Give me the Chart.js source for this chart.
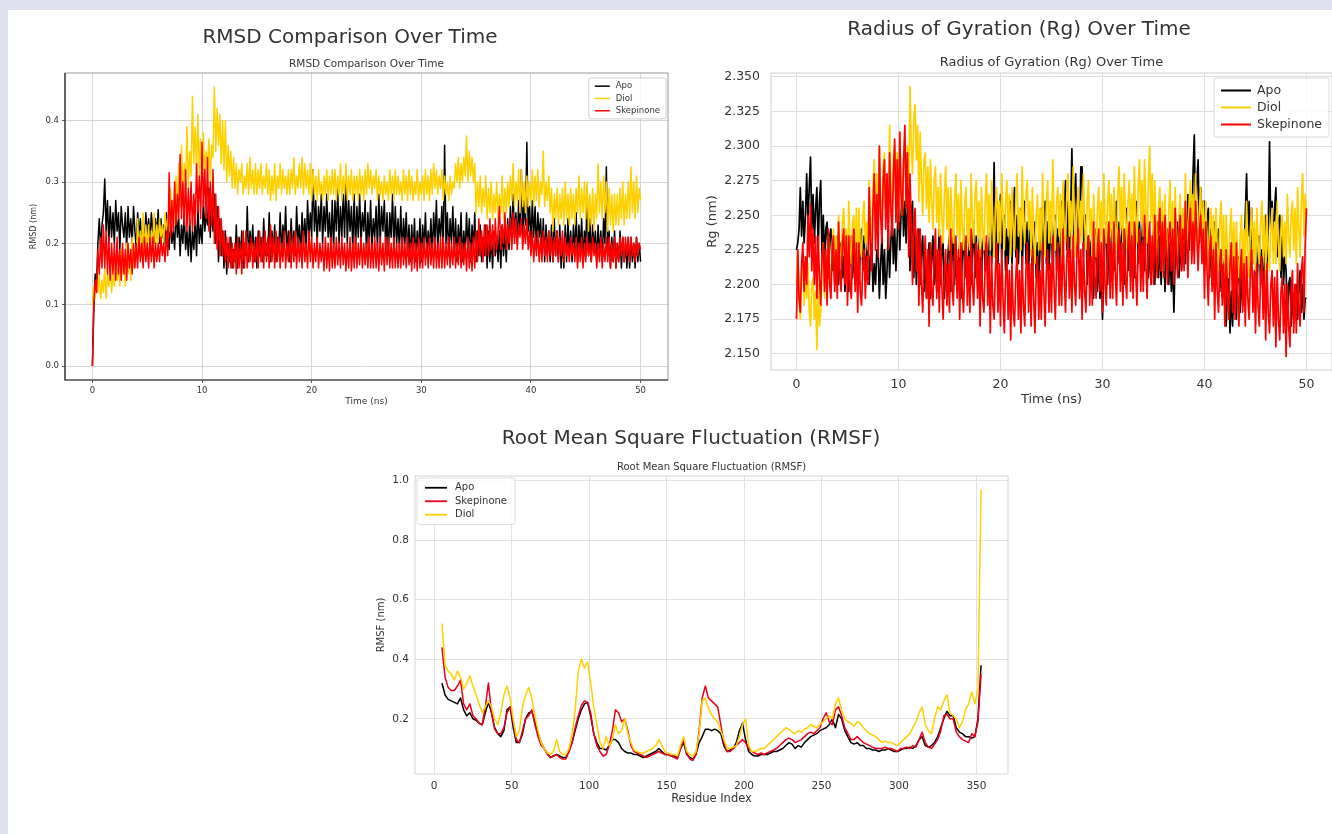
<!DOCTYPE html>
<html>
<head>
<meta charset="utf-8">
<title>RMSD, Rg and RMSF</title>
<script src="https://cdn.jsdelivr.net/npm/chart.js@4.4.1/dist/chart.umd.min.js"></script>
<style>
  html, body { margin: 0; padding: 0; }
  body { width: 1332px; height: 834px; overflow: hidden; background: #dfe1f0; position: relative; }
  #sheet { position: absolute; left: 8px; top: 10px; right: 0; bottom: 0; background: #ffffff; }
  .plot { position: absolute; }
  #rmsdBox { left: 10px; top: 12px; width: 680px; height: 405px; }
  #rgBox { left: 700px; top: 12px; width: 638px; height: 405px; }
  #rmsfBox { left: 340px; top: 418px; width: 702px; height: 400px; }
</style>
</head>
<body>
<div id="sheet"></div>
<div class="plot" id="rmsdBox"><canvas id="rmsdChart"></canvas></div>
<div class="plot" id="rgBox"><canvas id="rgChart"></canvas></div>
<div class="plot" id="rmsfBox"><canvas id="rmsfChart"></canvas></div>

<script>
// ---- data ----
// RMSD / Rg: 8 readings per ns, one row per ns (0 .. 50 ns)
const timeStep = 0.125;

const rmsdApo = [
  0.00,0.09,0.15,0.13,0.20,0.24,0.19,0.23,  0.25,0.305,0.22,0.27,0.20,0.26,0.21,0.25,
  0.20,0.27,0.22,0.25,0.19,0.26,0.23,0.21,  0.25,0.19,0.26,0.21,0.24,0.20,0.26,0.22,
  0.19,0.25,0.21,0.24,0.19,0.23,0.20,0.25,  0.21,0.24,0.20,0.25,0.22,0.20,0.24,0.21,
  0.255,0.20,0.24,0.21,0.23,0.20,0.25,0.21, 0.19,0.24,0.20,0.22,0.19,0.26,0.21,0.24,
  0.18,0.23,0.20,0.25,0.19,0.22,0.18,0.24,  0.17,0.22,0.19,0.24,0.18,0.26,0.20,0.23,
  0.20,0.27,0.22,0.25,0.23,0.29,0.21,0.27,  0.22,0.28,0.20,0.26,0.17,0.24,0.18,0.22,
  0.16,0.22,0.15,0.20,0.17,0.21,0.16,0.19,  0.17,0.23,0.16,0.21,0.18,0.22,0.16,0.20,
  0.18,0.26,0.17,0.22,0.19,0.23,0.17,0.21,  0.16,0.22,0.18,0.21,0.17,0.24,0.18,0.20,
  0.18,0.25,0.17,0.22,0.19,0.23,0.17,0.21,  0.19,0.25,0.18,0.23,0.20,0.26,0.18,0.22,
  0.17,0.24,0.19,0.22,0.18,0.26,0.20,0.23,  0.18,0.25,0.20,0.24,0.19,0.27,0.21,0.25,
  0.21,0.32,0.22,0.27,0.20,0.26,0.22,0.28,  0.20,0.26,0.22,0.28,0.21,0.25,0.19,0.27,
  0.19,0.27,0.22,0.29,0.20,0.26,0.21,0.28,  0.21,0.31,0.20,0.27,0.22,0.26,0.19,0.28,
  0.19,0.26,0.21,0.28,0.20,0.25,0.22,0.27,  0.18,0.25,0.20,0.27,0.19,0.24,0.21,0.26,
  0.19,0.28,0.20,0.26,0.22,0.27,0.19,0.25,  0.18,0.25,0.21,0.28,0.19,0.26,0.20,0.24,
  0.19,0.26,0.18,0.24,0.20,0.25,0.18,0.23,  0.17,0.23,0.18,0.24,0.17,0.22,0.19,0.24,
  0.17,0.23,0.19,0.25,0.18,0.22,0.19,0.24,  0.18,0.25,0.20,0.27,0.19,0.24,0.21,0.26,
  0.19,0.36,0.20,0.25,0.18,0.24,0.20,0.26,  0.18,0.24,0.17,0.23,0.19,0.25,0.17,0.22,
  0.18,0.25,0.19,0.24,0.17,0.23,0.19,0.25,  0.17,0.22,0.18,0.23,0.17,0.21,0.18,0.23,
  0.16,0.22,0.17,0.21,0.16,0.22,0.18,0.21,  0.17,0.22,0.16,0.23,0.18,0.22,0.17,0.24,
  0.19,0.26,0.20,0.28,0.21,0.25,0.20,0.27,  0.22,0.32,0.21,0.27,0.23,0.365,0.22,0.26,
  0.20,0.27,0.21,0.26,0.19,0.25,0.21,0.24,  0.18,0.24,0.17,0.23,0.18,0.22,0.17,0.23,
  0.17,0.24,0.18,0.22,0.17,0.23,0.16,0.21,  0.16,0.23,0.17,0.24,0.18,0.22,0.17,0.23,
  0.18,0.25,0.17,0.23,0.19,0.24,0.17,0.22,  0.19,0.29,0.18,0.24,0.17,0.23,0.19,0.22,
  0.17,0.23,0.18,0.22,0.17,0.24,0.20,0.325, 0.18,0.22,0.16,0.21,0.17,0.22,0.16,0.20,
  0.17,0.22,0.16,0.21,0.17,0.20,0.16,0.21,  0.16,0.21,0.17,0.20,0.16,0.21,0.17,0.20,
  0.17
];
const rmsdDiol = [
  0.10,0.13,0.11,0.14,0.12,0.15,0.11,0.14,  0.12,0.16,0.11,0.15,0.13,0.17,0.12,0.15,
  0.13,0.18,0.14,0.16,0.13,0.19,0.15,0.17,  0.13,0.20,0.15,0.18,0.14,0.21,0.16,0.19,
  0.17,0.24,0.18,0.22,0.19,0.25,0.18,0.23,  0.19,0.23,0.18,0.22,0.20,0.25,0.19,0.23,
  0.20,0.24,0.21,0.23,0.20,0.25,0.22,0.24,  0.22,0.29,0.24,0.27,0.23,0.31,0.25,0.33,
  0.26,0.36,0.28,0.33,0.30,0.39,0.29,0.35,  0.31,0.44,0.33,0.39,0.32,0.41,0.31,0.37,
  0.30,0.38,0.31,0.35,0.32,0.37,0.30,0.36,  0.34,0.455,0.35,0.42,0.36,0.41,0.33,0.40,
  0.32,0.40,0.30,0.36,0.31,0.35,0.29,0.34,  0.29,0.33,0.28,0.32,0.30,0.33,0.28,0.31,
  0.29,0.33,0.28,0.34,0.29,0.32,0.28,0.33,  0.28,0.32,0.29,0.33,0.28,0.31,0.29,0.33,
  0.28,0.32,0.27,0.31,0.28,0.33,0.27,0.31,  0.29,0.33,0.28,0.32,0.29,0.31,0.28,0.32,
  0.28,0.32,0.29,0.34,0.28,0.31,0.29,0.33,  0.29,0.34,0.28,0.33,0.29,0.32,0.28,0.33,
  0.27,0.32,0.28,0.31,0.27,0.32,0.28,0.30,  0.27,0.31,0.28,0.32,0.27,0.31,0.28,0.32,
  0.28,0.32,0.27,0.31,0.28,0.33,0.27,0.31,  0.28,0.33,0.27,0.31,0.28,0.32,0.27,0.31,
  0.28,0.31,0.27,0.32,0.28,0.31,0.27,0.32,  0.28,0.33,0.29,0.32,0.28,0.31,0.29,0.32,
  0.27,0.31,0.28,0.30,0.27,0.31,0.28,0.30,  0.27,0.32,0.28,0.31,0.27,0.32,0.28,0.31,
  0.28,0.30,0.27,0.32,0.28,0.31,0.27,0.32,  0.28,0.31,0.27,0.30,0.28,0.32,0.27,0.30,
  0.28,0.31,0.27,0.32,0.28,0.31,0.27,0.32,  0.28,0.33,0.29,0.32,0.28,0.31,0.29,0.32,
  0.27,0.31,0.28,0.30,0.27,0.31,0.28,0.30,  0.29,0.33,0.30,0.34,0.29,0.33,0.30,0.34,
  0.31,0.375,0.30,0.35,0.31,0.34,0.30,0.33, 0.25,0.30,0.26,0.31,0.25,0.29,0.26,0.31,
  0.24,0.29,0.25,0.30,0.24,0.28,0.25,0.30,  0.24,0.28,0.25,0.31,0.24,0.29,0.25,0.30,
  0.26,0.31,0.27,0.33,0.26,0.30,0.27,0.32,  0.25,0.32,0.26,0.30,0.25,0.31,0.26,0.30,
  0.27,0.32,0.26,0.31,0.27,0.32,0.26,0.30,  0.28,0.35,0.26,0.30,0.27,0.31,0.25,0.29,
  0.22,0.28,0.24,0.29,0.23,0.28,0.24,0.29,  0.23,0.30,0.24,0.28,0.23,0.29,0.24,0.28,
  0.23,0.29,0.25,0.31,0.24,0.29,0.25,0.30,  0.24,0.30,0.22,0.28,0.23,0.29,0.22,0.28,
  0.24,0.33,0.25,0.30,0.24,0.31,0.25,0.30,  0.22,0.29,0.23,0.28,0.22,0.28,0.23,0.28,
  0.23,0.29,0.24,0.30,0.23,0.28,0.24,0.30,  0.24,0.325,0.25,0.30,0.24,0.31,0.25,0.29,
  0.27
];
const rmsdSkep = [
  0.00,0.10,0.14,0.12,0.19,0.15,0.21,0.16,  0.23,0.16,0.22,0.15,0.21,0.14,0.20,0.15,
  0.20,0.14,0.21,0.15,0.19,0.14,0.20,0.15,  0.19,0.14,0.20,0.16,0.19,0.15,0.20,0.16,
  0.20,0.16,0.21,0.17,0.20,0.16,0.21,0.17,  0.20,0.16,0.21,0.17,0.21,0.16,0.20,0.17,
  0.20,0.17,0.21,0.18,0.20,0.17,0.22,0.18,  0.315,0.21,0.27,0.22,0.30,0.23,0.28,0.24,
  0.345,0.24,0.30,0.23,0.32,0.22,0.29,0.23, 0.30,0.22,0.28,0.23,0.33,0.25,0.31,0.24,
  0.365,0.26,0.32,0.24,0.34,0.22,0.30,0.23, 0.32,0.20,0.28,0.19,0.26,0.18,0.24,0.18,
  0.22,0.17,0.21,0.16,0.21,0.16,0.20,0.16,  0.20,0.15,0.21,0.16,0.20,0.15,0.22,0.16,
  0.22,0.16,0.20,0.17,0.21,0.16,0.20,0.17,  0.21,0.16,0.22,0.17,0.21,0.16,0.22,0.17,
  0.21,0.16,0.23,0.17,0.21,0.16,0.22,0.17,  0.21,0.16,0.20,0.17,0.22,0.16,0.20,0.17,
  0.22,0.16,0.21,0.17,0.22,0.16,0.21,0.17,  0.20,0.16,0.22,0.17,0.20,0.16,0.22,0.17,
  0.21,0.16,0.20,0.17,0.21,0.16,0.20,0.17,  0.20,0.155,0.21,0.16,0.20,0.155,0.21,0.16,
  0.20,0.16,0.21,0.165,0.20,0.16,0.21,0.165, 0.20,0.155,0.20,0.16,0.21,0.155,0.20,0.16,
  0.21,0.16,0.20,0.165,0.21,0.16,0.20,0.165, 0.20,0.16,0.21,0.16,0.20,0.16,0.21,0.16,
  0.20,0.155,0.21,0.165,0.20,0.155,0.21,0.165, 0.21,0.16,0.20,0.16,0.21,0.16,0.20,0.16,
  0.20,0.16,0.21,0.165,0.20,0.16,0.21,0.165, 0.20,0.155,0.21,0.16,0.20,0.155,0.21,0.16,
  0.20,0.16,0.21,0.165,0.20,0.16,0.21,0.165, 0.20,0.16,0.21,0.16,0.20,0.16,0.21,0.16,
  0.21,0.16,0.20,0.165,0.21,0.16,0.20,0.165, 0.21,0.16,0.20,0.165,0.21,0.16,0.20,0.165,
  0.20,0.155,0.21,0.16,0.20,0.155,0.21,0.16, 0.22,0.17,0.24,0.18,0.22,0.17,0.23,0.18,
  0.23,0.18,0.24,0.19,0.23,0.18,0.24,0.19,  0.22,0.26,0.19,0.23,0.20,0.25,0.19,0.23,
  0.20,0.24,0.19,0.25,0.20,0.24,0.19,0.23,  0.21,0.24,0.19,0.23,0.20,0.24,0.19,0.22,
  0.18,0.22,0.17,0.21,0.18,0.22,0.17,0.21,  0.17,0.22,0.18,0.21,0.17,0.22,0.18,0.21,
  0.17,0.21,0.18,0.22,0.17,0.21,0.18,0.22,  0.17,0.21,0.18,0.20,0.17,0.21,0.18,0.20,
  0.17,0.21,0.16,0.20,0.17,0.21,0.16,0.20,  0.17,0.21,0.18,0.20,0.17,0.21,0.18,0.20,
  0.16,0.20,0.17,0.21,0.16,0.20,0.17,0.21,  0.17,0.21,0.16,0.20,0.17,0.21,0.16,0.20,
  0.17,0.21,0.18,0.21,0.17,0.21,0.18,0.21,  0.17,0.21,0.18,0.20,0.17,0.21,0.18,0.20,
  0.19
];

const rgApo = [
  2.225,2.23,2.24,2.27,2.235,2.26,2.23,2.25,     2.28,2.245,2.27,2.292,2.24,2.265,2.23,2.255,
  2.27,2.225,2.26,2.275,2.22,2.25,2.215,2.24,    2.245,2.205,2.235,2.24,2.21,2.23,2.2,2.225,
  2.235,2.2,2.225,2.23,2.205,2.22,2.195,2.215,   2.225,2.195,2.22,2.235,2.205,2.23,2.2,2.22,
  2.23,2.2,2.225,2.24,2.21,2.235,2.205,2.22,     2.235,2.2,2.22,2.23,2.195,2.215,2.2,2.225,
  2.225,2.19,2.215,2.235,2.2,2.225,2.19,2.21,    2.24,2.205,2.23,2.25,2.215,2.24,2.21,2.235,
  2.26,2.225,2.25,2.27,2.235,2.26,2.23,2.255,    2.28,2.21,2.25,2.26,2.205,2.24,2.2,2.23,
  2.24,2.2,2.225,2.235,2.195,2.22,2.19,2.215,    2.23,2.19,2.22,2.235,2.2,2.225,2.195,2.215,
  2.24,2.2,2.225,2.23,2.19,2.215,2.2,2.225,      2.235,2.195,2.22,2.24,2.2,2.23,2.195,2.215,
  2.23,2.19,2.22,2.24,2.205,2.23,2.2,2.22,       2.235,2.2,2.225,2.245,2.205,2.235,2.2,2.225,
  2.24,2.2,2.23,2.235,2.21,2.23,2.205,2.225,     2.25,2.215,2.24,2.288,2.22,2.26,2.215,2.245,
  2.265,2.22,2.245,2.25,2.21,2.24,2.215,2.235,   2.26,2.215,2.245,2.27,2.22,2.25,2.215,2.24,
  2.255,2.21,2.24,2.26,2.215,2.245,2.21,2.235,   2.25,2.2,2.235,2.245,2.205,2.23,2.2,2.225,
  2.255,2.21,2.24,2.26,2.215,2.245,2.21,2.235,   2.245,2.205,2.235,2.25,2.21,2.24,2.205,2.23,
  2.26,2.22,2.25,2.275,2.225,2.26,2.22,2.25,     2.298,2.23,2.265,2.28,2.225,2.26,2.235,2.285,
  2.285,2.22,2.25,2.25,2.2,2.235,2.205,2.23,     2.235,2.19,2.22,2.24,2.195,2.225,2.19,2.215,
  2.175,2.21,2.235,2.245,2.2,2.23,2.205,2.235,   2.25,2.21,2.24,2.26,2.215,2.245,2.21,2.235,
  2.245,2.2,2.235,2.255,2.21,2.24,2.205,2.23,    2.25,2.205,2.24,2.26,2.215,2.245,2.21,2.235,
  2.255,2.21,2.24,2.25,2.205,2.235,2.2,2.225,    2.24,2.2,2.23,2.245,2.205,2.235,2.2,2.225,
  2.235,2.195,2.225,2.24,2.2,2.23,2.195,2.22,    2.18,2.22,2.235,2.245,2.205,2.235,2.21,2.24,
  2.25,2.215,2.245,2.265,2.225,2.26,2.235,2.28,  2.308,2.24,2.275,2.29,2.23,2.27,2.225,2.26,
  2.26,2.215,2.245,2.255,2.205,2.24,2.2,2.23,    2.245,2.2,2.23,2.24,2.195,2.225,2.19,2.215,
  2.22,2.17,2.2,2.21,2.165,2.195,2.17,2.2,       2.215,2.175,2.205,2.22,2.18,2.21,2.185,2.225,
  2.25,2.28,2.235,2.26,2.22,2.255,2.215,2.24,    2.23,2.19,2.22,2.235,2.2,2.225,2.195,2.215,
  2.25,2.215,2.24,2.303,2.24,2.26,2.225,2.255,   2.27,2.22,2.245,2.25,2.205,2.235,2.2,2.22,
  2.21,2.175,2.2,2.205,2.17,2.195,2.175,2.2,     2.2,2.175,2.195,2.21,2.18,2.2,2.175,2.19,
  2.19
];
const rgDiol = [
  2.2,2.225,2.19,2.175,2.21,2.22,2.185,2.215,    2.19,2.215,2.18,2.17,2.2,2.205,2.175,2.195,
  2.153,2.2,2.17,2.18,2.215,2.23,2.19,2.22,      2.195,2.235,2.205,2.2,2.23,2.24,2.21,2.235,
  2.205,2.25,2.22,2.215,2.245,2.255,2.225,2.24,  2.21,2.26,2.225,2.215,2.245,2.25,2.22,2.255,
  2.205,2.255,2.225,2.22,2.25,2.26,2.23,2.245,   2.225,2.275,2.245,2.23,2.27,2.29,2.24,2.28,
  2.24,2.3,2.26,2.245,2.285,2.295,2.255,2.28,    2.25,2.315,2.27,2.255,2.29,2.3,2.26,2.295,
  2.245,2.31,2.27,2.25,2.29,2.305,2.26,2.3,      2.27,2.343,2.3,2.28,2.32,2.33,2.29,2.315,
  2.26,2.31,2.275,2.25,2.29,2.295,2.255,2.285,   2.245,2.29,2.26,2.24,2.275,2.285,2.245,2.27,
  2.235,2.28,2.25,2.23,2.265,2.285,2.24,2.27,    2.225,2.27,2.245,2.23,2.26,2.28,2.235,2.265,
  2.22,2.275,2.24,2.225,2.26,2.27,2.23,2.255,    2.225,2.28,2.245,2.23,2.265,2.275,2.235,2.26,
  2.22,2.27,2.24,2.225,2.26,2.28,2.235,2.265,    2.225,2.275,2.245,2.22,2.255,2.27,2.23,2.26,
  2.23,2.28,2.25,2.225,2.26,2.275,2.235,2.265,   2.22,2.27,2.24,2.225,2.26,2.28,2.235,2.255,
  2.225,2.285,2.245,2.23,2.265,2.275,2.24,2.26,  2.22,2.27,2.235,2.215,2.25,2.265,2.225,2.255,
  2.225,2.28,2.245,2.22,2.26,2.275,2.23,2.26,    2.23,2.29,2.25,2.225,2.26,2.27,2.235,2.265,
  2.22,2.275,2.24,2.23,2.265,2.28,2.235,2.26,    2.225,2.285,2.245,2.22,2.255,2.27,2.23,2.26,
  2.23,2.28,2.245,2.225,2.26,2.275,2.235,2.255,  2.215,2.265,2.235,2.22,2.255,2.27,2.23,2.26,
  2.225,2.28,2.245,2.23,2.26,2.275,2.235,2.265,  2.22,2.27,2.24,2.225,2.265,2.285,2.24,2.27,
  2.23,2.28,2.25,2.225,2.26,2.275,2.235,2.265,   2.225,2.285,2.25,2.23,2.27,2.29,2.245,2.275,
  2.235,2.29,2.255,2.23,2.275,2.3,2.245,2.28,    2.22,2.275,2.24,2.215,2.255,2.27,2.225,2.26,
  2.21,2.265,2.23,2.215,2.255,2.275,2.225,2.26,  2.215,2.27,2.235,2.21,2.25,2.265,2.22,2.255,
  2.22,2.28,2.245,2.225,2.26,2.275,2.235,2.265,  2.225,2.28,2.245,2.22,2.255,2.27,2.23,2.26,
  2.215,2.26,2.23,2.21,2.245,2.255,2.22,2.25,    2.205,2.255,2.225,2.21,2.245,2.26,2.215,2.25,
  2.2,2.25,2.22,2.205,2.24,2.255,2.21,2.245,     2.2,2.245,2.215,2.205,2.235,2.25,2.21,2.24,
  2.21,2.26,2.225,2.205,2.24,2.255,2.215,2.245,  2.21,2.255,2.23,2.215,2.245,2.26,2.22,2.25,
  2.205,2.25,2.225,2.21,2.24,2.255,2.215,2.245,  2.215,2.26,2.23,2.21,2.24,2.25,2.22,2.245,
  2.215,2.265,2.235,2.22,2.25,2.26,2.225,2.255,  2.215,2.27,2.24,2.22,2.26,2.28,2.235,2.265,
  2.25
];
const rgSkep = [
  2.175,2.225,2.19,2.18,2.215,2.23,2.195,2.22,   2.2,2.25,2.22,2.258,2.21,2.24,2.2,2.235,
  2.19,2.235,2.205,2.185,2.22,2.23,2.195,2.225,  2.185,2.24,2.2,2.19,2.225,2.235,2.195,2.225,
  2.19,2.245,2.21,2.195,2.23,2.24,2.2,2.235,     2.185,2.235,2.2,2.19,2.225,2.24,2.195,2.23,
  2.18,2.23,2.195,2.185,2.215,2.225,2.19,2.22,   2.2,2.27,2.23,2.21,2.255,2.28,2.225,2.265,
  2.22,2.3,2.25,2.23,2.275,2.29,2.24,2.28,       2.225,2.295,2.255,2.235,2.28,2.305,2.245,2.29,
  2.24,2.31,2.265,2.25,2.29,2.315,2.255,2.295,   2.22,2.28,2.24,2.2,2.245,2.255,2.21,2.24,
  2.185,2.24,2.2,2.18,2.215,2.235,2.19,2.225,    2.17,2.23,2.195,2.185,2.22,2.24,2.19,2.225,
  2.18,2.235,2.2,2.175,2.21,2.225,2.185,2.215,   2.18,2.24,2.2,2.185,2.22,2.235,2.19,2.225,
  2.175,2.23,2.195,2.18,2.215,2.235,2.185,2.22,  2.18,2.24,2.2,2.185,2.22,2.23,2.19,2.225,
  2.17,2.225,2.19,2.18,2.215,2.235,2.185,2.22,   2.165,2.22,2.185,2.175,2.21,2.23,2.18,2.215,
  2.17,2.225,2.19,2.165,2.205,2.22,2.175,2.21,   2.16,2.215,2.18,2.17,2.205,2.225,2.175,2.21,
  2.165,2.22,2.185,2.17,2.21,2.23,2.18,2.215,    2.17,2.225,2.19,2.165,2.205,2.22,2.175,2.21,
  2.175,2.23,2.195,2.17,2.21,2.225,2.18,2.215,   2.18,2.235,2.2,2.175,2.215,2.23,2.185,2.22,
  2.185,2.24,2.205,2.18,2.22,2.235,2.19,2.225,   2.18,2.235,2.2,2.185,2.225,2.24,2.19,2.225,
  2.175,2.23,2.195,2.18,2.22,2.235,2.185,2.22,   2.185,2.245,2.205,2.19,2.225,2.24,2.195,2.23,
  2.18,2.24,2.2,2.185,2.225,2.245,2.19,2.23,     2.19,2.245,2.21,2.185,2.225,2.24,2.195,2.23,
  2.185,2.24,2.205,2.19,2.23,2.245,2.195,2.235,  2.19,2.245,2.21,2.185,2.225,2.24,2.195,2.23,
  2.195,2.25,2.215,2.19,2.23,2.245,2.2,2.235,    2.2,2.25,2.22,2.205,2.24,2.255,2.21,2.245,
  2.205,2.25,2.225,2.2,2.235,2.245,2.21,2.24,    2.2,2.255,2.22,2.205,2.24,2.25,2.21,2.24,
  2.21,2.26,2.23,2.205,2.245,2.255,2.215,2.245,  2.215,2.26,2.235,2.21,2.24,2.25,2.215,2.24,
  2.19,2.245,2.21,2.185,2.225,2.235,2.195,2.225, 2.175,2.23,2.195,2.18,2.215,2.225,2.185,2.215,
  2.17,2.225,2.19,2.175,2.215,2.23,2.18,2.22,    2.175,2.23,2.195,2.17,2.21,2.225,2.18,2.215,
  2.17,2.22,2.19,2.175,2.21,2.225,2.18,2.21,     2.165,2.215,2.185,2.17,2.205,2.22,2.175,2.21,
  2.16,2.215,2.18,2.165,2.2,2.21,2.17,2.205,     2.155,2.21,2.175,2.16,2.195,2.205,2.165,2.2,
  2.148,2.2,2.17,2.155,2.195,2.21,2.165,2.2,     2.165,2.215,2.185,2.17,2.21,2.22,2.18,2.23,
  2.255
];

// RMSF is sampled every 2nd residue, residue 5 .. 353
const residueFirst = 5;
const residueStep = 2;

const rmsfApo = [
  .32,.28,.265,.26,.255,.25,.27,.23,.21,.22,
  .2,.195,.185,.18,.22,.255,.22,.17,.15,.14,
  .16,.23,.24,.17,.12,.12,.15,.2,.22,.225,
  .19,.15,.12,.1,.085,.07,.075,.08,.075,.07,
  .07,.09,.12,.16,.2,.23,.25,.255,.21,.15,
  .12,.1,.1,.095,.11,.13,.13,.12,.1,.09,
  .085,.085,.08,.08,.075,.07,.075,.08,.085,.09,
  .1,.09,.08,.08,.075,.075,.07,.1,.12,.08,
  .07,.065,.08,.12,.14,.165,.165,.16,.165,.16,
  .15,.11,.09,.095,.1,.12,.16,.185,.13,.09,
  .08,.075,.075,.08,.08,.08,.085,.09,.09,.095,
  .1,.11,.12,.115,.1,.11,.105,.12,.13,.14,
  .145,.15,.16,.165,.17,.18,.2,.17,.215,.2,
  .16,.14,.12,.115,.12,.11,.11,.1,.1,.095,
  .095,.09,.095,.095,.1,.095,.09,.09,.095,.1,
  .1,.105,.1,.11,.13,.14,.11,.105,.11,.12,
  .14,.17,.2,.225,.21,.21,.17,.155,.15,.14,
  .14,.135,.14,.2,.38
];
const rmsfSkep = [
  .44,.34,.305,.295,.295,.31,.33,.25,.23,.25,
  .21,.2,.185,.18,.24,.32,.22,.165,.15,.15,
  .17,.22,.24,.19,.13,.12,.16,.2,.21,.23,
  .18,.14,.11,.1,.08,.07,.075,.08,.07,.065,
  .065,.09,.12,.17,.21,.245,.26,.255,.22,.15,
  .11,.09,.075,.08,.11,.16,.23,.22,.19,.2,
  .16,.11,.09,.085,.08,.075,.07,.075,.08,.085,
  .09,.085,.08,.08,.075,.07,.065,.1,.13,.085,
  .065,.06,.08,.16,.27,.31,.27,.26,.25,.24,
  .18,.12,.09,.09,.1,.11,.12,.13,.12,.1,
  .09,.085,.08,.085,.08,.085,.09,.095,.1,.11,
  .12,.13,.135,.13,.12,.125,.13,.14,.15,.155,
  .15,.16,.17,.2,.22,.19,.18,.23,.24,.21,
  .17,.15,.13,.13,.14,.13,.12,.115,.11,.105,
  .1,.1,.1,.105,.1,.1,.095,.09,.1,.1,
  .105,.1,.11,.105,.13,.155,.12,.105,.1,.115,
  .13,.16,.21,.215,.2,.2,.155,.14,.13,.125,
  .12,.15,.14,.19,.35
];
const rmsfDiol = [
  .52,.38,.36,.35,.33,.36,.34,.3,.32,.345,
  .31,.28,.25,.22,.24,.26,.24,.2,.18,.22,
  .28,.31,.27,.2,.14,.16,.24,.28,.305,.27,
  .21,.16,.12,.1,.085,.08,.09,.13,.09,.08,
  .08,.1,.15,.23,.36,.4,.37,.39,.32,.24,
  .18,.12,.1,.14,.11,.13,.18,.15,.16,.2,
  .15,.12,.095,.09,.085,.085,.09,.095,.1,.11,
  .13,.11,.09,.085,.08,.08,.075,.11,.14,.09,
  .08,.075,.09,.15,.26,.27,.235,.215,.2,.19,
  .16,.13,.1,.1,.105,.11,.14,.18,.2,.11,
  .09,.09,.095,.1,.1,.11,.12,.13,.14,.15,
  .16,.17,.165,.155,.15,.16,.155,.165,.17,.18,
  .175,.17,.18,.19,.2,.21,.2,.25,.27,.23,
  .2,.19,.185,.175,.19,.185,.17,.16,.15,.145,
  .14,.13,.12,.125,.12,.12,.115,.11,.12,.13,
  .14,.15,.17,.19,.22,.24,.18,.16,.15,.2,
  .24,.23,.26,.28,.22,.21,.2,.17,.19,.23,
  .25,.29,.25,.3,.97
];

// tick positions
const timeTicks = [0, 10, 20, 30, 40, 50];
const rmsdTicks = [0, 0.1, 0.2, 0.3, 0.4];
const rgTicks = [2.15, 2.175, 2.2, 2.225, 2.25, 2.275, 2.3, 2.325, 2.35];
const residueTicks = [0, 50, 100, 150, 200, 250, 300, 350];
const rmsfTicks = [0.2, 0.4, 0.6, 0.8, 1.0];

const timeNs = rmsdApo.map((_, i) => i * timeStep);
const residues = rmsfApo.map((_, i) => residueFirst + i * residueStep);

Chart.defaults.font.family = '"DejaVu Sans", sans-serif';
Chart.defaults.color = "#333";

// matplotlib style autoscale: 5% margin each side
function autoRange(lists) {
  const all = [].concat(...lists);
  const lo = Math.min(...all);
  const hi = Math.max(...all);
  const m = (hi - lo) * 0.05;
  return { min: lo - m, max: hi + m };
}

function lineSet(label, xs, ys, color, width, order) {
  return {
    label,
    data: ys.map((y, i) => ({ x: xs[i], y })),
    borderColor: color,
    backgroundColor: color,
    borderWidth: width,
    borderJoinStyle: "round",
    pointRadius: 0,
    tension: 0,
    fill: false,
    order
  };
}

const fixedTicks = values => scale => { scale.ticks = values.map(v => ({ value: v })); };
const fitWidth = w => scale => { scale.width = w; };
const fitHeight = h => scale => { scale.height = h; };

// empty axis on the right: keeps room right of the plot without moving the title
function rightSpace(w) {
  return {
    type: "linear",
    position: "right",
    afterFit: fitWidth(w),
    grid: { display: false, drawTicks: false },
    border: { display: false },
    ticks: { display: false }
  };
}

// box round the plot area (plus dark left/bottom spines for the RMSD plot)
const framePlugin = {
  id: "frame",
  afterDatasetsDraw(chart, args, opts) {
    const a = chart.chartArea;
    const ctx = chart.ctx;
    ctx.save();
    ctx.lineWidth = 1;
    ctx.strokeStyle = opts.color;
    ctx.strokeRect(a.left, a.top, a.right - a.left, a.bottom - a.top);
    if (opts.spineColor) {
      ctx.strokeStyle = opts.spineColor;
      ctx.lineWidth = opts.spineWidth;
      ctx.beginPath();
      ctx.moveTo(a.left, a.top);
      ctx.lineTo(a.left, a.bottom);
      ctx.lineTo(a.right, a.bottom);
      ctx.stroke();
    }
    ctx.restore();
  }
};

// legend drawn inside the plot area, like matplotlib's
const insideLegendPlugin = {
  id: "insideLegend",
  afterDatasetsDraw(chart, args, opts) {
    const ctx = chart.ctx;
    const area = chart.chartArea;
    const sets = chart.data.datasets;
    ctx.save();
    ctx.font = opts.fontSize + 'px "DejaVu Sans", sans-serif';
    let textW = 0;
    sets.forEach(d => { textW = Math.max(textW, ctx.measureText(d.label).width); });
    const w = opts.padX * 2 + opts.lineLen + opts.gap + textW;
    const h = opts.padY * 2 + opts.rowH * sets.length;
    const x0 = opts.side === "left" ? area.left + opts.marginX : area.right - opts.marginX - w;
    const y0 = area.top + opts.marginY;

    ctx.fillStyle = "rgba(255,255,255,0.85)";
    ctx.strokeStyle = opts.boxColor;
    ctx.lineWidth = 1;
    ctx.beginPath();
    if (ctx.roundRect) ctx.roundRect(x0, y0, w, h, 2);
    else ctx.rect(x0, y0, w, h);
    ctx.fill();
    ctx.stroke();

    sets.forEach((d, i) => {
      const cy = y0 + opts.padY + opts.rowH * (i + 0.5);
      ctx.strokeStyle = d.borderColor;
      ctx.lineWidth = opts.lineWidth;
      ctx.beginPath();
      ctx.moveTo(x0 + opts.padX, cy);
      ctx.lineTo(x0 + opts.padX + opts.lineLen, cy);
      ctx.stroke();
      ctx.fillStyle = "#333";
      ctx.textBaseline = "middle";
      ctx.fillText(d.label, x0 + opts.padX + opts.lineLen + opts.gap, cy);
    });
    ctx.restore();
  }
};

/* ===============================
   RMSD
=============================== */
const rmsdX = { min: -2.5, max: 52.5 };
const rmsdY = autoRange([rmsdApo, rmsdDiol, rmsdSkep]);

new Chart(document.getElementById("rmsdChart"), {
  type: "line",
  data: {
    datasets: [
      lineSet("Apo", timeNs, rmsdApo, "#000000", 1.5, 3),
      lineSet("Diol", timeNs, rmsdDiol, "#FFD000", 1.5, 2),
      lineSet("Skepinone", timeNs, rmsdSkep, "#FF0000", 1.5, 1)
    ]
  },
  options: {
    responsive: true,
    maintainAspectRatio: false,
    animation: false,
    events: [],
    layout: { padding: 0 },
    plugins: {
      legend: { display: false },
      tooltip: { enabled: false },
      title: {
        display: true,
        text: "RMSD Comparison Over Time",
        font: { size: 20, weight: "normal" },
        color: "#333",
        padding: { top: 14, bottom: 0 }
      },
      frame: { color: "#9a9a9a", spineColor: "#222", spineWidth: 1.2 },
      insideLegend: {
        side: "right", marginX: 2, marginY: 5, padX: 6, padY: 2,
        lineLen: 15, gap: 6, rowH: 12.3, fontSize: 8.5, lineWidth: 1.5, boxColor: "#d0d0d0"
      }
    },
    scales: {
      x: {
        type: "linear",
        min: rmsdX.min,
        max: rmsdX.max,
        afterBuildTicks: fixedTicks(timeTicks),
        afterFit: fitHeight(37),
        grid: { color: "#cccccc", lineWidth: 0.8, tickLength: 3, tickColor: "#333" },
        border: { display: false },
        ticks: { font: { size: 8.5 }, color: "#333", padding: 3, maxRotation: 0, callback: v => String(v) },
        title: { display: true, text: "Time (ns)", font: { size: 9 }, color: "#333", padding: { top: 0, bottom: 9.6 } }
      },
      y: {
        type: "linear",
        min: rmsdY.min,
        max: rmsdY.max,
        afterBuildTicks: fixedTicks(rmsdTicks),
        afterFit: fitWidth(55),
        grid: { color: "#cccccc", lineWidth: 0.8, tickLength: 3, tickColor: "#333" },
        border: { display: false },
        ticks: { font: { size: 8.5 }, color: "#333", padding: 3, callback: v => v.toFixed(1) },
        title: { display: true, text: "RMSD (nm)", font: { size: 8 }, color: "#333", padding: { top: 19.6, bottom: 0 } }
      },
      yRight: rightSpace(22),
      xTop: {
        type: "linear",
        position: "top",
        afterFit: fitHeight(23),
        grid: { display: false, drawTicks: false },
        border: { display: false },
        ticks: { display: false },
        title: { display: true, text: "RMSD Comparison Over Time", font: { size: 10.5 }, color: "#333", padding: { top: 7.7, bottom: 0 } }
      }
    }
  },
  plugins: [framePlugin, insideLegendPlugin]
});

/* ===============================
   Radius of gyration
=============================== */
const rgX = { min: -2.5, max: 52.5 };
const rgY = autoRange([rgApo, rgDiol, rgSkep]);

new Chart(document.getElementById("rgChart"), {
  type: "line",
  data: {
    datasets: [
      lineSet("Apo", timeNs, rgApo, "#000000", 1.7, 3),
      lineSet("Diol", timeNs, rgDiol, "#FFD000", 1.7, 2),
      lineSet("Skepinone", timeNs, rgSkep, "#FF0000", 1.7, 1)
    ]
  },
  options: {
    responsive: true,
    maintainAspectRatio: false,
    animation: false,
    events: [],
    layout: { padding: 0 },
    plugins: {
      legend: { display: false },
      tooltip: { enabled: false },
      title: {
        display: true,
        text: "Radius of Gyration (Rg) Over Time",
        font: { size: 20, weight: "normal" },
        color: "#333",
        padding: { top: 6, bottom: 0 }
      },
      frame: { color: "#d0d0d0" },
      insideLegend: {
        side: "right", marginX: 3, marginY: 5, padX: 7, padY: 4,
        lineLen: 30, gap: 6, rowH: 17, fontSize: 12.5, lineWidth: 2, boxColor: "#d8d8d8"
      }
    },
    scales: {
      x: {
        type: "linear",
        min: rgX.min,
        max: rgX.max,
        afterBuildTicks: fixedTicks(timeTicks),
        afterFit: fitHeight(47),
        grid: { color: "#dedede", lineWidth: 1, drawTicks: false },
        border: { display: false },
        ticks: { font: { size: 12.5 }, color: "#333", padding: 7.5, maxRotation: 0, callback: v => String(v) },
        title: { display: true, text: "Time (ns)", font: { size: 13 }, color: "#333", padding: { top: 0, bottom: 9.2 } }
      },
      y: {
        type: "linear",
        min: rgY.min,
        max: rgY.max,
        afterBuildTicks: fixedTicks(rgTicks),
        afterFit: fitWidth(71),
        grid: { color: "#dedede", lineWidth: 1, drawTicks: false },
        border: { display: false },
        ticks: { font: { size: 12.5 }, color: "#333", padding: 11, callback: v => v.toFixed(3) },
        title: { display: true, text: "Rg (nm)", font: { size: 13 }, color: "#333", padding: { top: 5.2, bottom: 0 } }
      },
      yRight: rightSpace(6),
      xTop: {
        type: "linear",
        position: "top",
        afterFit: fitHeight(31),
        grid: { display: false, drawTicks: false },
        border: { display: false },
        ticks: { display: false },
        title: { display: true, text: "Radius of Gyration (Rg) Over Time", font: { size: 13 }, color: "#333", padding: { top: 13.2, bottom: 0 } }
      }
    }
  },
  plugins: [framePlugin, insideLegendPlugin]
});

/* ===============================
   RMSF
=============================== */
const rmsfX = autoRange([residues]);
const rmsfY = autoRange([rmsfApo, rmsfSkep, rmsfDiol]);

new Chart(document.getElementById("rmsfChart"), {
  type: "line",
  data: {
    datasets: [
      lineSet("Apo", residues, rmsfApo, "#000000", 1.5, 3),
      lineSet("Skepinone", residues, rmsfSkep, "#E8001C", 1.5, 2),
      lineSet("Diol", residues, rmsfDiol, "#FFD000", 1.5, 1)
    ]
  },
  options: {
    responsive: true,
    maintainAspectRatio: false,
    animation: false,
    events: [],
    layout: { padding: 0 },
    plugins: {
      legend: { display: false },
      tooltip: { enabled: false },
      title: {
        display: true,
        text: "Root Mean Square Fluctuation (RMSF)",
        font: { size: 20, weight: "normal" },
        color: "#333",
        padding: { top: 9, bottom: 0 }
      },
      frame: { color: "#d6d6d6" },
      insideLegend: {
        side: "left", marginX: 2, marginY: 2, padX: 8, padY: 3,
        lineLen: 22, gap: 8, rowH: 13.5, fontSize: 10, lineWidth: 1.8, boxColor: "#dddddd"
      }
    },
    scales: {
      x: {
        type: "linear",
        min: rmsfX.min,
        max: rmsfX.max,
        afterBuildTicks: fixedTicks(residueTicks),
        afterFit: fitHeight(44),
        grid: { color: "#e2e2e2", lineWidth: 1, drawTicks: false },
        border: { display: false },
        ticks: { font: { size: 10.5 }, color: "#333", padding: 5.7, maxRotation: 0, callback: v => String(v) },
        title: { display: true, text: "Residue Index", font: { size: 11.5 }, color: "#333", padding: { top: 0, bottom: 12.1 } }
      },
      y: {
        type: "linear",
        min: rmsfY.min,
        max: rmsfY.max,
        afterBuildTicks: fixedTicks(rmsfTicks),
        afterFit: fitWidth(75),
        grid: { color: "#e2e2e2", lineWidth: 1, drawTicks: false },
        border: { display: false },
        ticks: { font: { size: 10.5 }, color: "#333", padding: 6, callback: v => v.toFixed(1) },
        title: { display: true, text: "RMSF (nm)", font: { size: 10 }, color: "#333", padding: { top: 35, bottom: 0 } }
      },
      yRight: rightSpace(34),
      xTop: {
        type: "linear",
        position: "top",
        afterFit: fitHeight(25),
        grid: { display: false, drawTicks: false },
        border: { display: false },
        ticks: { display: false },
        title: { display: true, text: "Root Mean Square Fluctuation (RMSF)", font: { size: 10 }, color: "#333", padding: { top: 10, bottom: 0 } }
      }
    }
  },
  plugins: [framePlugin, insideLegendPlugin]
});
</script>
</body>
</html>
